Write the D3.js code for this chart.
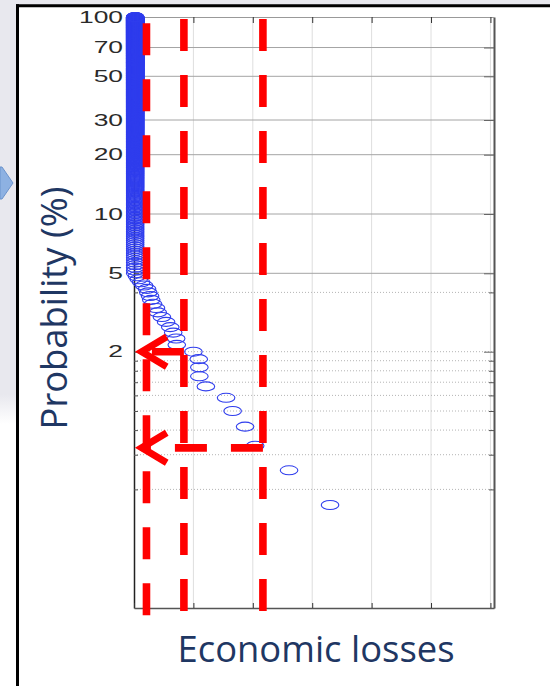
<!DOCTYPE html>
<html>
<head>
<meta charset="utf-8">
<script src="https://d3js.org/d3.v7.min.js"></script>
<style>
  body { margin: 0; background: #fff; }
  svg { display: block; }
  .slide-text { font-family: "Open Sans", "Noto Sans", sans-serif; fill: #1f3763; }
</style>
</head>
<body>
<svg id="chart"></svg>
<script>
// ---- data ----
// exceedance plot: event losses sorted from largest, probability = rank / eventCount
var eventCount = 600;
var firstRank = 2;              // rank 1 is outside the plotted loss range
var tailLosses = [3.30, 2.61, 2.04, 1.87, 1.66, 1.55, 1.21, 1.10, 1.10, 1.09,
                  1.00, 0.72, 0.71, 0.66, 0.61, 0.54, 0.47, 0.40, 0.37, 0.32,
                  0.29, 0.27, 0.24, 0.22, 0.17, 0.12, 0.08, 0.05];
var bodyLoss = 0.02;            // all remaining events sit on the y axis

var yTickLabels = [2, 5, 10, 20, 30, 50, 70, 100];
var yMinorTicks = [0.4, 0.6, 0.8, 1, 1.2, 1.4, 1.6, 1.8, 4];
var xTicks = [0, 1, 2, 3, 4, 5, 6];

// red annotations
var markerLosses = [0.21, 0.84, 2.17];
var arrowProbs = [2, 0.65];
var arrowFromLoss = [0.84, 2.17];
var arrowTipLoss = 0.13;

var width = 550, height = 686;
var svg = d3.select("#chart").attr("width", width).attr("height", height);

// slide background bits
var defs = svg.append("defs");
var grad = defs.append("linearGradient").attr("id", "panelFade")
  .attr("x1", 0).attr("y1", 0).attr("x2", 0).attr("y2", 1);
grad.append("stop").attr("offset", "0.93").attr("stop-color", "#e8e8ee");
grad.append("stop").attr("offset", "1").attr("stop-color", "#ffffff");
svg.append("rect").attr("x", 0).attr("y", 0).attr("width", 17).attr("height", 424).attr("fill", "url(#panelFade)");
svg.append("rect").attr("x", 0).attr("y", 0).attr("width", width).attr("height", 5).attr("fill", "#e8e8ee");
svg.append("polygon")
  .attr("points", "0,167 2,167 13,183 2,199 0,199")
  .attr("fill", "#8db1e2").attr("stroke", "#6b93cc").attr("stroke-width", 1);
svg.append("line").attr("x1", 16).attr("x2", width).attr("y1", 5.8).attr("y2", 5.8)
  .attr("stroke", "#000").attr("stroke-width", 3);
svg.append("line").attr("x1", 17.5).attr("x2", 17.5).attr("y1", 4.3).attr("y2", height)
  .attr("stroke", "#000").attr("stroke-width", 3);

// scales
var x = d3.scaleLinear().domain([0, 6.06]).range([134, 494]);
var y = d3.scaleLog().domain([0.1, 100]).range([608, 17]);

// grid
var grid = svg.append("g");
grid.selectAll(".vgrid").data(xTicks.slice(1)).enter().append("line")
  .attr("x1", x).attr("x2", x).attr("y1", y(100)).attr("y2", y(0.1))
  .attr("stroke", "#dedede").attr("stroke-width", 1);
grid.selectAll(".hgrid").data(yTickLabels.filter(function (v) { return v >= 5 && v < 100; }))
  .enter().append("line")
  .attr("x1", x(0)).attr("x2", x(6.06)).attr("y1", y).attr("y2", y)
  .attr("stroke", "#a4a4a4").attr("stroke-width", 1);
grid.selectAll(".mgrid").data(yMinorTicks.concat([2])).enter().append("line")
  .attr("x1", x(0)).attr("x2", x(6.06)).attr("y1", y).attr("y2", y)
  .attr("stroke", "#b4b4b4").attr("stroke-width", 1).attr("stroke-dasharray", "1,2");

// axes
var gLeft = svg.append("g").attr("transform", "translate(" + x(0) + ",0)")
  .call(d3.axisLeft(y).tickValues(yTickLabels).tickFormat(d3.format("d"))
    .tickSizeInner(-5).tickSizeOuter(0).tickPadding(11));
gLeft.selectAll(".tick text")
  .attr("font-family", "'Liberation Sans', Arial, sans-serif")
  .attr("font-size", 16).attr("fill", "#2a2a2a")
  .attr("x", -11 / 1.65).attr("transform", "scale(1.65,1)");
gLeft.select(".domain").attr("stroke", "#222").attr("stroke-width", 1.5);
gLeft.selectAll(".tick line").attr("stroke", "#444");
svg.append("g").attr("transform", "translate(" + x(0) + ",0)")
  .call(d3.axisLeft(y).tickValues(yMinorTicks).tickFormat("").tickSizeInner(-4).tickSizeOuter(0))
  .call(function (g) { g.select(".domain").remove(); g.selectAll("line").attr("stroke", "#555"); });

var gRight = svg.append("g").attr("transform", "translate(" + x(6.06) + ",0)")
  .call(d3.axisRight(y).tickValues(yTickLabels).tickFormat("").tickSizeInner(-10).tickSizeOuter(0));
gRight.select(".domain").attr("stroke", "#555").attr("stroke-width", 2);
gRight.selectAll("line").attr("stroke", "#666");
svg.append("g").attr("transform", "translate(" + x(6.06) + ",0)")
  .call(d3.axisRight(y).tickValues(yMinorTicks).tickFormat("").tickSizeInner(-5).tickSizeOuter(0))
  .call(function (g) { g.select(".domain").remove(); g.selectAll("line").attr("stroke", "#555"); });

var gBottom = svg.append("g").attr("transform", "translate(0," + y(0.1) + ")")
  .call(d3.axisBottom(x).tickValues(xTicks).tickFormat("").tickSizeInner(-5).tickSizeOuter(0));
gBottom.select(".domain").attr("stroke", "#555").attr("stroke-width", 1.5);
gBottom.selectAll("line").attr("stroke", "#333");
var gTop = svg.append("g").attr("transform", "translate(0," + y(100) + ")")
  .call(d3.axisTop(x).tickValues(xTicks).tickFormat("").tickSizeInner(-6).tickSizeOuter(0));
gTop.select(".domain").attr("stroke", "#999").attr("stroke-width", 1);
gTop.selectAll("line").attr("stroke", "#333");

// points
var lossesByRank = tailLosses.concat(d3.range(eventCount - firstRank - tailLosses.length + 1).map(function () { return bodyLoss; }));
var points = lossesByRank.map(function (loss, i) {
  return { loss: loss, prob: (firstRank + i) / eventCount * 100 };
});
svg.append("g").selectAll("ellipse").data(points).enter().append("ellipse")
  .attr("cx", function (d) { return x(d.loss); })
  .attr("cy", function (d) { return y(d.prob); })
  .attr("rx", 8.8).attr("ry", 4.5)
  .attr("fill", "none").attr("stroke", "#2f3ded").attr("stroke-width", 1.1);

// red dashed annotations
var red = svg.append("g").attr("fill", "none").attr("stroke", "#ff0000").attr("stroke-width", 7.6);
var dashPhase = [23.3, 19, 19];
red.selectAll(".vdash").data(markerLosses).enter().append("line")
  .attr("x1", x).attr("x2", x)
  .attr("y1", function (d, i) { return dashPhase[i]; })
  .attr("y2", function (d, i) { return dashPhase[i] + 10 * 56 + 32; })
  .attr("stroke-dasharray", "32,24");
red.selectAll(".hdash").data(arrowProbs).enter().append("line")
  .attr("x1", function (d, i) { return x(arrowFromLoss[i]); })
  .attr("x2", x(arrowTipLoss))
  .attr("y1", y).attr("y2", y)
  .attr("stroke-dasharray", "32,24");
red.selectAll(".head").data(arrowProbs).enter().append("polyline")
  .attr("points", function (d) {
    var tx = x(arrowTipLoss), ty = y(d);
    return [[tx + 25, ty - 15], [tx, ty], [tx + 25, ty + 15]].join(" ");
  })
  .attr("stroke-width", 7).attr("stroke-linejoin", "miter");

// axis titles (slide text)
svg.append("text").attr("class", "slide-text")
  .attr("x", 316).attr("y", 662).attr("text-anchor", "middle")
  .attr("font-size", 37).attr("textLength", 277).attr("lengthAdjust", "spacingAndGlyphs")
  .text("Economic losses");
svg.append("text").attr("class", "slide-text")
  .attr("transform", "translate(67,308) rotate(-90)").attr("text-anchor", "middle")
  .attr("font-size", 37).attr("textLength", 243).attr("lengthAdjust", "spacingAndGlyphs")
  .text("Probability (%)");
</script>
</body>
</html>
